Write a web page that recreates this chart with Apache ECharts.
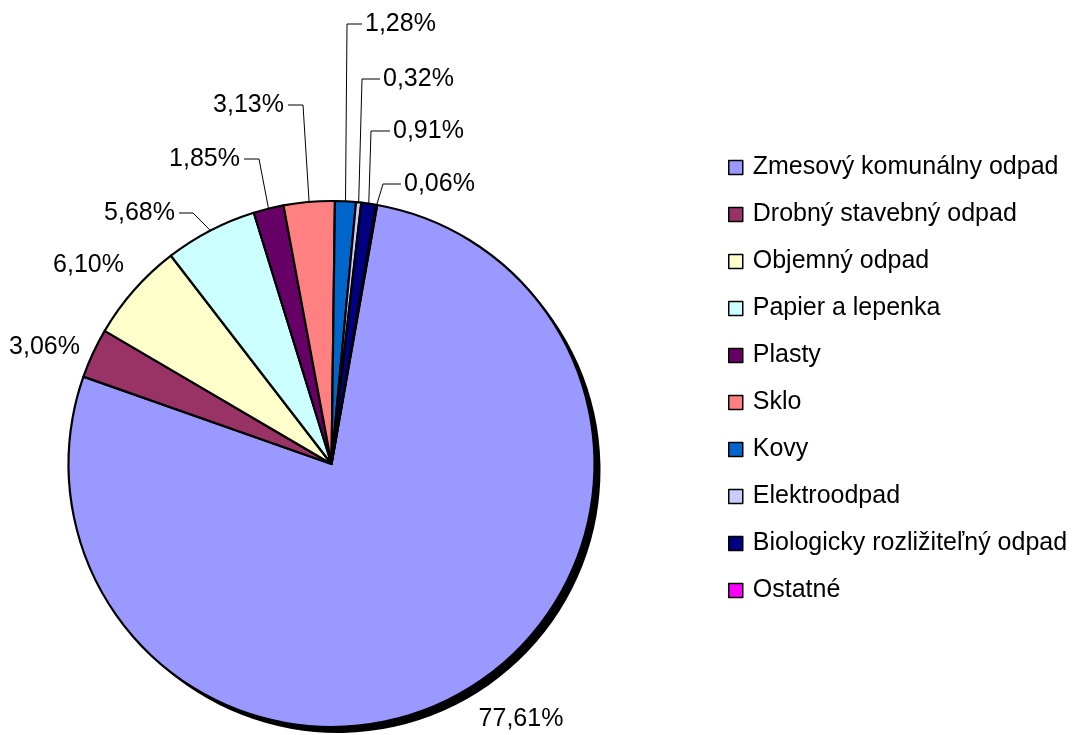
<!DOCTYPE html>
<html><head><meta charset="utf-8">
<script src="https://cdn.jsdelivr.net/npm/echarts@6/dist/echarts.min.js"></script>
<style>html,body{margin:0;padding:0;background:#fff}#c{width:1073px;height:735px}</style>
</head><body><div id="c"></div>
<script>
const categories = ['Zmesový komunálny odpad','Drobný stavebný odpad','Objemný odpad','Papier a lepenka','Plasty','Sklo','Kovy','Elektroodpad','Biologicky rozližiteľný odpad','Ostatné'];
const shares = [77.61, 3.06, 6.10, 5.68, 1.85, 3.13, 1.28, 0.32, 0.91, 0.06];
const colors = ['#9999FF','#993366','#FFFFCC','#CCFFFF','#660066','#FF8080','#0066CC','#CCCCFF','#000080','#FF00FF'];

// label anchor layout: [x, y, align, elbowX (null = no leader line)]
const labelAnchors = [
  [521, 719, 'center', null],
  [80, 347, 'right', null],
  [124, 265, 'right', null],
  [175, 213, 'right', 193],
  [240, 159, 'right', 259],
  [284, 105, 'right', 303],
  [365, 24, 'left', 347],
  [383, 79, 'left', 362],
  [393, 131, 'left', 371],
  [404, 184, 'left', 383]
];

const FONT = "'Liberation Sans', Arial, sans-serif";
const CX = 331.5, CY = 464, R = 263, SHADOW = 6;

const data = categories.map((name, i) => {
  const d = { name: name, value: shares[i], itemStyle: { color: colors[i] } };
  if (labelAnchors[i][3] === null) d.labelLine = { show: false };
  return d;
});
const shadowData = categories.map((name, i) => ({ name: name, value: shares[i] }));

const chart = echarts.init(document.getElementById('c'), null, { renderer: 'canvas' });
chart.setOption({
  animation: false,
  backgroundColor: '#fff',
  legend: {
    orient: 'vertical',
    left: 723,
    top: 150,
    itemWidth: 14,
    itemHeight: 14,
    itemGap: 22,
    icon: 'rect',
    selectedMode: false,
    data: categories,
    textStyle: { fontSize: 25, lineHeight: 25, color: '#000', fontFamily: FONT, padding: [0, 0, 0, 5] },
    itemStyle: { borderColor: '#000', borderWidth: 1.5 }
  },
  series: [{
    type: 'pie',
    z: 3,
    center: [CX, CY],
    radius: R,
    startAngle: 80,
    clockwise: true,
    avoidLabelOverlap: false,
    emphasis: { disabled: true },
    itemStyle: { borderColor: '#000', borderWidth: 2.2 },
    label: {
      show: true,
      position: 'outside',
      color: '#000',
      fontSize: 25,
      fontFamily: FONT,
      formatter: p => p.value.toFixed(2).replace('.', ',') + '%'
    },
    labelLine: { show: true, lineStyle: { color: '#000', width: 1 } },
    labelLayout: function (params) {
      const a = labelAnchors[params.dataIndex];
      const res = { x: a[0], y: a[1], align: a[2], verticalAlign: 'middle' };
      if (a[3] !== null && params.labelLinePoints) {
        const start = params.labelLinePoints[0];
        const endX = a[2] === 'left' ? a[0] - 3 : a[0] + 4;
        res.labelLinePoints = [[start[0], start[1]], [a[3], a[1]], [endX, a[1]]];
      }
      return res;
    },
    data: data
  }, {
    type: 'pie',
    z: 1,
    silent: true,
    center: [CX + SHADOW, CY + SHADOW],
    radius: R,
    startAngle: 80,
    clockwise: true,
    label: { show: false },
    labelLine: { show: false },
    emphasis: { disabled: true },
    itemStyle: { color: '#000', borderWidth: 0 },
    data: shadowData
  }]
});
</script>
</body></html>
